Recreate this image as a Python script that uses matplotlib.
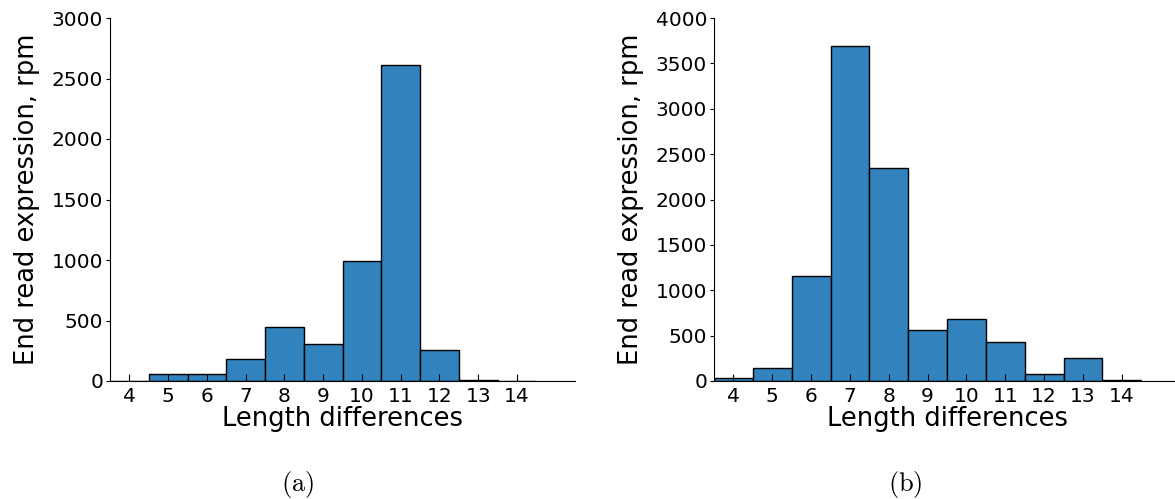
import numpy as np
import matplotlib.pyplot as plt

plt.rcParams['mathtext.fontset'] = 'cm'

lengths = [4, 5, 6, 7, 8, 9, 10, 11, 12, 13, 14]
expr_a = [3, 60, 55, 180, 450, 305, 995, 2612, 255, 6, 2]
expr_b = [30, 148, 1160, 3695, 2345, 565, 682, 432, 75, 258, 6]
ymax_a = 3000
ymax_b = 4000

bar_color = '#3182bd'

fig = plt.figure(figsize=(11.75, 4.99), dpi=100)
W, H = 1175.0, 499.0


def panel(left_px, right_px, values, ymax, tag, tag_x):
    ax = fig.add_axes([left_px / W, 118 / H, (right_px - left_px) / W, 363 / H])
    ax.bar(lengths, values, width=1.0, color=bar_color, edgecolor='black',
           linewidth=1.0)
    ax.set_xlim(3.5, 15.5)
    ax.set_ylim(0, ymax)
    ax.set_xticks(lengths)
    ax.set_yticks(np.arange(0, ymax + 1, 500))
    for s in ['top', 'right']:
        ax.spines[s].set_visible(False)
    ax.tick_params(axis='x', direction='in', length=5, labelsize=14.5, pad=4)
    ax.tick_params(axis='y', direction='out', length=3, labelsize=14.5, pad=2)
    ax.set_xlabel('Length differences', fontsize=18.5, labelpad=0)
    ax.set_ylabel('End read expression, rpm', fontsize=18.5, labelpad=8)
    fig.text(tag_x / W, 1 - 485 / H, r'$\mathrm{(' + tag + ')}$', fontsize=19,
             ha='center', va='center')
    return ax


panel(110, 575, expr_a, ymax_a, 'a', 298)
panel(714, 1180, expr_b, ymax_b, 'b', 905)

fig.savefig('out.png', dpi=100)
